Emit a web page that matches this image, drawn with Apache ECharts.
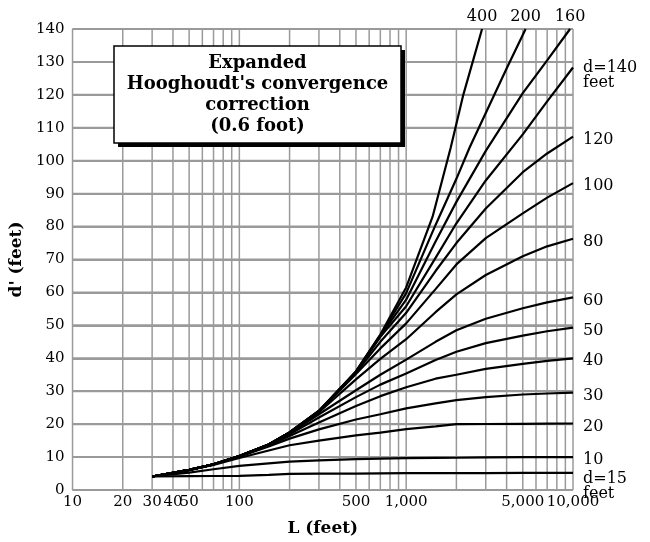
<!DOCTYPE html>
<html><head><meta charset="utf-8">
<script src="https://cdn.jsdelivr.net/npm/echarts@6/dist/echarts.min.js"></script>
<style>html,body{margin:0;padding:0;background:#fff}#c{width:650px;height:542px}</style>
</head><body><div id="c"></div>
<script>
// ---- data ----
const L_common = [30, 50, 70, 100, 150, 200, 300, 500, 700, 1000, 1500, 2000, 3000, 5000, 7000, 10000];
const d5   = [4.1, 4.2, 4.25, 4.3, 4.6, 4.9, 5.0, 5.0, 5.05, 5.1, 5.1, 5.1, 5.15, 5.2, 5.2, 5.2];
const d10  = [4.1, 5.3, 6.3, 7.3, 8.1, 8.6, 9.0, 9.35, 9.5, 9.65, 9.75, 9.8, 9.9, 10.0, 10.0, 10.0];
const d20  = [4.1, 6.0, 7.6, 9.7, 12.0, 13.6, 15.0, 16.6, 17.4, 18.5, 19.3, 20.0, 20.05, 20.1, 20.15, 20.2];
const d30  = [4.1, 6.1, 7.8, 10.1, 13.2, 15.6, 18.4, 21.4, 23.0, 24.8, 26.3, 27.3, 28.2, 29.0, 29.3, 29.6];
const d40  = [4.1, 6.1, 7.8, 10.2, 13.5, 16.4, 20.5, 25.5, 28.5, 31.2, 33.8, 35.0, 36.8, 38.3, 39.2, 40.0];
const d50  = [4.1, 6.1, 7.8, 10.3, 13.7, 16.9, 22.0, 28.2, 32.0, 35.4, 39.5, 42.0, 44.6, 46.9, 48.2, 49.3];
const d60  = [4.1, 6.1, 7.8, 10.3, 13.8, 17.2, 23.0, 30.3, 35.0, 39.6, 45.0, 48.5, 52.0, 55.2, 57.0, 58.5];
const d80  = [4.1, 6.1, 7.8, 10.3, 13.8, 17.4, 23.6, 33.6, 39.8, 45.8, 54.0, 59.4, 65.3, 71.0, 74.0, 76.3];
const d100 = [4.1, 6.1, 7.8, 10.3, 13.8, 17.5, 23.8, 35.2, 43.0, 50.6, 61.0, 68.5, 76.5, 84.0, 88.8, 93.2];
const d120 = [4.1, 6.1, 7.8, 10.3, 13.8, 17.5, 24.0, 35.6, 45.0, 53.8, 66.5, 75.0, 85.5, 96.5, 102.2, 107.3];
const d140 = [4.1, 6.1, 7.8, 10.3, 13.8, 17.5, 24.0, 35.8, 46.5, 55.8, 70.5, 81.0, 94.0, 108.0, 118.0, 128.3];
const L_d160 = [30, 50, 70, 100, 150, 200, 300, 500, 700, 1000, 1500, 2000, 3000, 5000, 7000, 9600];
const d160   = [4.1, 6.1, 7.8, 10.3, 13.8, 17.5, 24.0, 35.9, 46.8, 57.8, 75.5, 87.5, 103.0, 120.5, 130.5, 140];
const L_d200 = [30, 50, 70, 100, 150, 200, 300, 500, 700, 1000, 1500, 2000, 2400, 3000, 4000, 5200];
const d200   = [4.1, 6.1, 7.8, 10.3, 13.8, 17.5, 24.0, 36.0, 47.0, 59.8, 80.5, 94.5, 104.0, 114.5, 128.0, 140];
const L_d400 = [30, 50, 70, 100, 150, 200, 300, 500, 700, 1000, 1440, 1850, 2200, 2850];
const d400   = [4.1, 6.1, 7.8, 10.3, 13.8, 17.5, 24.0, 36.0, 47.2, 61.5, 83.0, 104.0, 120.0, 140];

const xGridValues = [10,20,30,40,50,60,70,80,90,100,200,300,400,500,600,700,800,900,1000,2000,3000,4000,5000,6000,7000,8000,9000,10000];
const yGridValues = [0,10,20,30,40,50,60,70,80,90,100,110,120,130,140];
const xTickValues = [10, 20, 30, 40, 50, 100, 500, 1000, 5000, 10000];
const xTickTexts  = ['10', '20', '30', '40', '50', '100', '500', '1,000', '5,000', '10,000'];
const titleLines = ['Expanded', "Hooghoudt's convergence", 'correction', '(0.6 foot)'];

// ---- chart ----
const SERIF = "'DejaVu Serif', serif";
const chart = echarts.init(document.getElementById('c'), null, {renderer: 'canvas'});
const X_MIN = 10, X_MAX = 10000, Y_MIN = 0, Y_MAX = 140;

function pairs(Ls, vals) { return Ls.map((l, i) => [l, vals[i]]); }
function endLbl(text, off) {
  return { show: true, formatter: text, color: '#000', fontFamily: SERIF, fontSize: 16,
           lineHeight: 15, distance: 10, offset: off || [0, 3] };
}
function curve(name, Ls, vals, endLabel, topLabel) {
  const data = pairs(Ls, vals);
  const s = { name, type: 'line', data, showSymbol: false, symbol: 'none', smooth: false,
    lineStyle: { color: '#000', width: 2.2 }, z: 5, animation: false, silent: true };
  if (endLabel) s.endLabel = endLabel;
  if (topLabel) {
    const last = data[data.length - 1];
    s.markPoint = { silent: true, animation: false, symbol: 'circle', symbolSize: 0,
      data: [{ coord: last, value: topLabel }],
      label: { show: true, position: 'top', distance: 4, formatter: topLabel,
        color: '#000', fontFamily: SERIF, fontSize: 16 } };
  }
  return s;
}

const gridLine = { color: '#9a9a9a', width: 1.5, type: 'solid' };
function gridSeries(name, data, lw) {
  return { name, type: 'line', data, z: 1, silent: true, animation: false, clip: false,
    showSymbol: false, symbol: 'none', lineStyle: { color: gridLine.color, width: lw, type: 'solid' },
    emphasis: { disabled: true } };
}
const gridLineSeries = []
  .concat(xGridValues.map(v => gridSeries('vx' + v, [[v, Y_MIN], [v, Y_MAX]], 1.5)))
  .concat(yGridValues.map(v => gridSeries('hy' + v, [[X_MIN, v], [X_MAX, v]], 2)));

const tickLabelSeries = {
  name: 'xticks', type: 'line', data: [], z: 2, silent: true, animation: false,
  showSymbol: false, symbol: 'none',
  markLine: {
    silent: true, symbol: ['none', 'none'], animation: false,
    lineStyle: { color: 'rgba(0,0,0,0)', width: 1 },
    label: { show: true, position: 'start', distance: 5, color: '#000', fontFamily: SERIF, fontSize: 15 },
    data: xTickValues.map((v, k) => ({ xAxis: v, label: { show: true, formatter: xTickTexts[k] } }))
  }
};

const option = {
  animation: false,
  backgroundColor: '#fff',
  grid: { left: 70, right: 77, top: 29, bottom: 44.5 },
  xAxis: {
    type: 'log', logBase: 10, min: X_MIN, max: X_MAX,
    axisLine: { show: false }, axisTick: { show: false }, axisLabel: { show: false },
    splitLine: { show: false },
    name: 'L (feet)', nameLocation: 'middle', nameGap: 30,
    nameTextStyle: { color: '#000', fontFamily: SERIF, fontSize: 17, fontWeight: 'bold' }
  },
  yAxis: {
    type: 'value', min: Y_MIN, max: Y_MAX, interval: 10,
    axisLine: { show: false }, axisTick: { show: false },
    axisLabel: { color: '#000', fontFamily: SERIF, fontSize: 15, margin: 8 },
    splitLine: { show: true, lineStyle: { color: '#9a9a9a', width: 2, type: 'solid' } },
    name: "d' (feet)", nameLocation: 'middle', nameGap: 40,
    nameTextStyle: { color: '#000', fontFamily: SERIF, fontSize: 17, fontWeight: 'bold' }
  },
  series: gridLineSeries.concat([
    tickLabelSeries,
    curve('d5', L_common, d5, endLbl('d=15\nfeet', [0, 13])),
    curve('d10', L_common, d10, endLbl('10')),
    curve('d20', L_common, d20, endLbl('20')),
    curve('d30', L_common, d30, endLbl('30')),
    curve('d40', L_common, d40, endLbl('40')),
    curve('d50', L_common, d50, endLbl('50')),
    curve('d60', L_common, d60, endLbl('60')),
    curve('d80', L_common, d80, endLbl('80')),
    curve('d100', L_common, d100, endLbl('100')),
    curve('d120', L_common, d120, endLbl('120')),
    curve('d140', L_common, d140, endLbl('d=140\nfeet', [0, 8])),
    curve('d160', L_d160, d160, null, '160'),
    curve('d200', L_d200, d200, null, '200'),
    curve('d400', L_d400, d400, null, '400')
  ]),
  graphic: [
    { type: 'rect', z: 100, silent: true, shape: { x: 118, y: 50, width: 287, height: 97 }, style: { fill: '#000' } },
    { type: 'rect', z: 101, silent: true, shape: { x: 114, y: 46, width: 287, height: 97 }, style: { fill: '#fff', stroke: '#000', lineWidth: 1.5 } },
    { type: 'text', z: 102, silent: true, x: 257.5, y: 95,
      style: { text: titleLines.join('\n'), align: 'center', verticalAlign: 'middle',
        fontFamily: SERIF, fontSize: 18, fontWeight: 'bold', lineHeight: 21, fill: '#000' } }
  ]
};
chart.setOption(option);
</script></body></html>
